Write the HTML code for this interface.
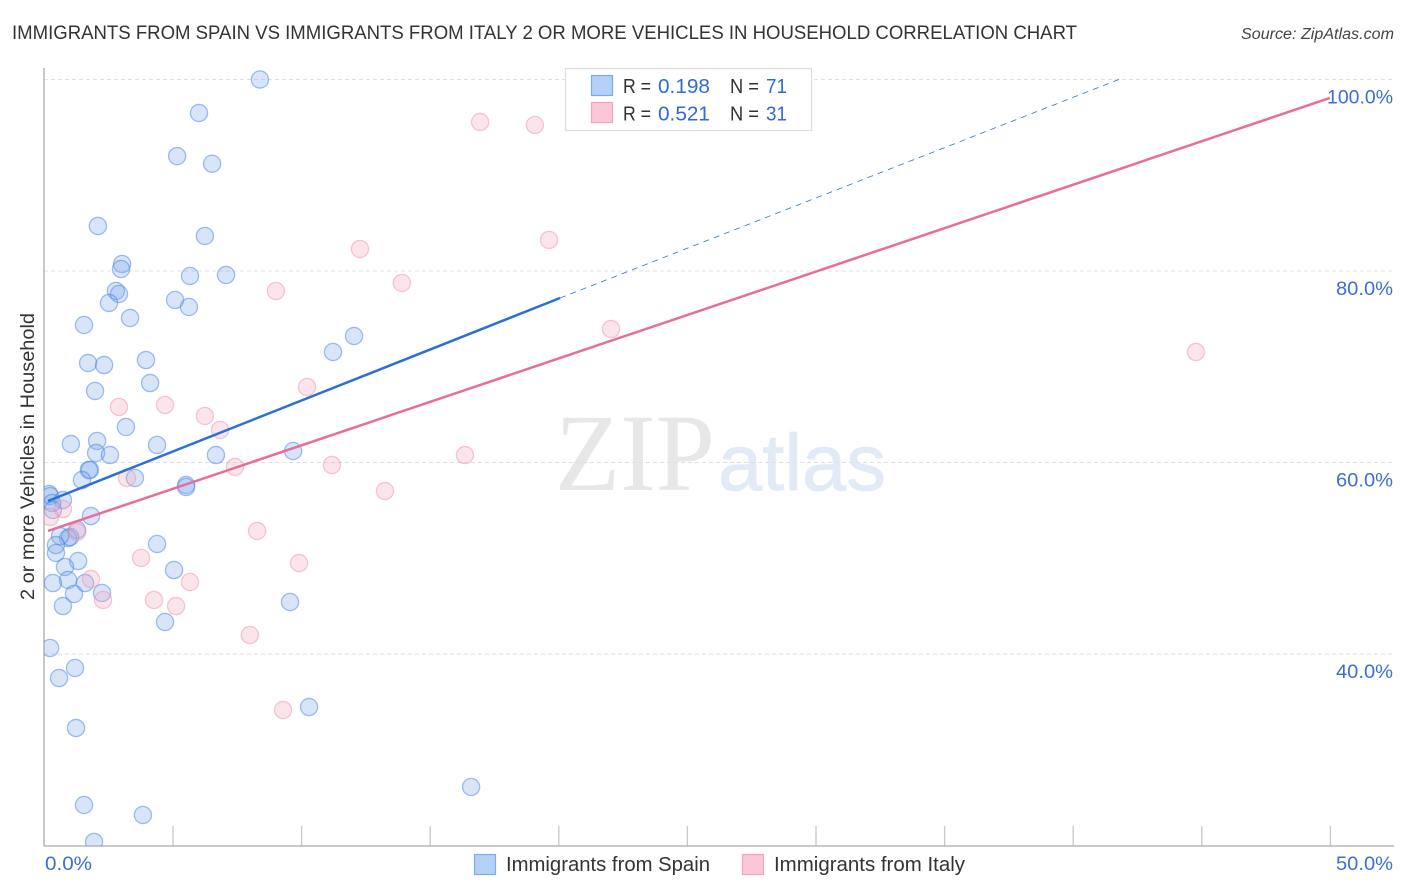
<!DOCTYPE html>
<html lang="en">
<head>
<meta charset="utf-8">
<title>Immigrants from Spain vs Immigrants from Italy correlation chart</title>
<style>
html,body{margin:0;padding:0;background:#fff;width:1406px;height:892px;overflow:hidden}
svg{display:block}
text{font-family:"Liberation Sans",sans-serif}
</style>
</head>
<body>
<svg id="chart" width="1406" height="892" viewBox="0 0 1406 892" xmlns="http://www.w3.org/2000/svg">
  <defs>
    <clipPath id="plot-clip"><rect x="44" y="60" width="1350" height="786"/></clipPath>
  </defs>
  <rect width="1406" height="892" fill="#fff"/>
  <text x="12" y="39" font-size="19.5" fill="#333" textLength="1065" lengthAdjust="spacingAndGlyphs">IMMIGRANTS FROM SPAIN VS IMMIGRANTS FROM ITALY 2 OR MORE VEHICLES IN HOUSEHOLD CORRELATION CHART</text>
  <text x="1241" y="39" font-size="15.5" font-style="italic" fill="#444" textLength="153" lengthAdjust="spacingAndGlyphs">Source: ZipAtlas.com</text>

  <text x="555" y="490" font-size="110" fill="#e7e7e7" textLength="160" lengthAdjust="spacingAndGlyphs" style="font-family:'Liberation Serif',serif">ZIP</text>
  <text x="718" y="490" font-size="80" fill="#e2eaf8" stroke="#e2eaf8" stroke-width="0.8" textLength="168" lengthAdjust="spacingAndGlyphs" style="font-family:'Liberation Sans',sans-serif">atlas</text>

  <g id="grid"></g>
  <g id="x-ticks"></g>
  <g id="y-labels"></g>
  <line x1="44" y1="68" x2="44" y2="846" stroke="#aaa" stroke-width="1.3"/>
  <line x1="44" y1="846" x2="1394" y2="846" stroke="#aaa" stroke-width="1.3"/>
  <g id="points" clip-path="url(#plot-clip)"></g>
  <g id="trends"></g>

  <text transform="translate(34,600) rotate(-90)" font-size="19.5" fill="#333" textLength="287" lengthAdjust="spacingAndGlyphs">2 or more Vehicles in Household</text>
  <text x="45" y="870" font-size="19.5" fill="#3b6fd4" textLength="47" lengthAdjust="spacingAndGlyphs">0.0%</text>
  <text x="1336" y="870" font-size="19.5" fill="#3b6fd4" textLength="57" lengthAdjust="spacingAndGlyphs">50.0%</text>

  <g>
    <rect x="565.5" y="68.5" width="246" height="62" fill="#fff" stroke="#ddd" stroke-width="1.2"/>
    <rect x="591.5" y="75.5" width="21" height="20" fill="#b5d0f5" stroke="#7dabe8" stroke-width="1.2"/>
    <rect x="591.5" y="102.5" width="21" height="20" fill="#fbc6d6" stroke="#f3a5bf" stroke-width="1.2"/>
    <text x="623" y="93" font-size="20" fill="#333" textLength="28" lengthAdjust="spacingAndGlyphs">R =</text>
    <text x="658" y="93" font-size="20.5" fill="#2f6bd0" textLength="52" lengthAdjust="spacingAndGlyphs">0.198</text>
    <text x="730" y="93" font-size="20" fill="#333" textLength="29" lengthAdjust="spacingAndGlyphs">N =</text>
    <text x="766" y="93" font-size="20.5" fill="#2f6bd0" textLength="21" lengthAdjust="spacingAndGlyphs">71</text>
    <text x="623" y="120.5" font-size="20" fill="#333" textLength="28" lengthAdjust="spacingAndGlyphs">R =</text>
    <text x="658" y="120.5" font-size="20.5" fill="#2f6bd0" textLength="52" lengthAdjust="spacingAndGlyphs">0.521</text>
    <text x="730" y="120.5" font-size="20" fill="#333" textLength="29" lengthAdjust="spacingAndGlyphs">N =</text>
    <text x="766" y="120.5" font-size="20.5" fill="#2f6bd0" textLength="21" lengthAdjust="spacingAndGlyphs">31</text>
  </g>

  <g>
    <rect x="474.5" y="854.5" width="21" height="20" fill="#b5d0f5" stroke="#7dabe8" stroke-width="1.2"/>
    <text x="506" y="871" font-size="20" fill="#333" textLength="204" lengthAdjust="spacingAndGlyphs">Immigrants from Spain</text>
    <rect x="742.5" y="854.5" width="21" height="20" fill="#fbc6d6" stroke="#f3a5bf" stroke-width="1.2"/>
    <text x="774" y="871" font-size="20" fill="#333" textLength="191" lengthAdjust="spacingAndGlyphs">Immigrants from Italy</text>
  </g>
</svg>

<script>
// Chart data (percent values)
const spainX = [8.38,6.01,5.16,6.52,2.08,6.24,3.02,2.98,5.66,7.06,2.78,2.90,5.08,5.62,2.51,3.33,1.54,12.04,11.22,3.95,1.70,2.32,4.11,1.97,3.17,1.03,2.05,4.38,9.67,2.01,2.55,6.67,1.73,1.77,3.52,1.46,5.51,5.51,0.18,0.22,0.72,0.30,0.33,1.81,1.27,4.38,0.92,1.00,0.61,0.45,0.45,1.31,0.80,5.04,0.92,1.58,0.33,1.15,2.24,0.72,4.69,9.55,0.22,1.19,0.57,10.29,1.23,16.59,1.54,3.83,1.93];
const spainY = [100.0,96.5,92.0,91.2,84.7,83.66,80.73,80.21,79.48,79.58,77.91,77.6,76.97,76.24,76.66,75.09,74.36,73.21,71.54,70.7,70.39,70.18,68.3,67.47,63.71,61.93,62.25,61.83,61.2,60.99,60.78,60.78,59.22,59.22,58.38,58.17,57.65,57.44,56.71,56.5,56.08,55.77,55.04,54.41,52.95,51.49,52.11,52.22,52.32,51.38,50.55,49.71,49.09,48.77,47.73,47.41,47.41,46.27,46.37,45.01,43.34,45.43,40.63,38.54,37.49,34.46,32.27,26.11,24.23,23.19,20.37];
const italyX = [16.94,19.07,19.62,12.27,9.00,13.90,22.03,44.77,10.21,2.90,4.69,6.24,6.83,7.41,11.18,16.35,3.21,13.24,0.72,0.22,8.27,1.27,3.76,9.90,5.66,1.81,2.28,4.26,5.12,7.99,9.28];
const italyY = [95.56,95.25,83.24,82.3,77.91,78.75,73.94,71.54,67.89,65.8,66.01,64.86,63.4,59.53,59.74,60.78,58.38,57.02,55.14,54.31,52.85,52.74,50.03,49.5,47.52,47.83,45.64,45.64,45.01,41.98,34.15];
const spainTrendX = [0.14,20.05];
const spainTrendY = [55.98,77.18];
const spainDashX = [20.05,41.82];
const spainDashY = [77.18,100.05];
const italyTrendX = [0.14,49.98];
const italyTrendY = [52.85,98.07];
const xTickValues = [5,10,15,20,25,30,35,40,45,50];
const yGridValues = [100,80,60,40];
const yTickLabels = ["100.0%","80.0%","60.0%","40.0%"];

const NS = 'http://www.w3.org/2000/svg';
function xScale(v){ return 44.4 + v * 25.72; }
function yScale(v){ return 79.5 + (100 - v) * 9.575; }
function make(tag, attrs, parent){
  const el = document.createElementNS(NS, tag);
  for (const k in attrs) el.setAttribute(k, attrs[k]);
  parent.appendChild(el);
  return el;
}

const grid = document.getElementById('grid');
const yLabels = document.getElementById('y-labels');
yGridValues.forEach(function(v, i){
  const l = make('line', {x1:44, x2:1394, y1:yScale(v), y2:yScale(v), stroke:'#e0e0e0', 'stroke-width':1, 'stroke-dasharray':'4 3'}, grid);
  
  
  const label = yTickLabels[i];
  const w = label.length === 6 ? 66 : 57;
  const t = make('text', {x:1393 - w, y:yScale(v) + 24, 'font-size':19.5, fill:'#3b6fd4', textLength:w, lengthAdjust:'spacingAndGlyphs'}, yLabels);
  t.textContent = label;
  
  
});

const xTicks = document.getElementById('x-ticks');
xTickValues.forEach(function(v){
  const l = make('line', {x1:xScale(v), x2:xScale(v), y1:826, y2:846, stroke:'#c8c8c8', 'stroke-width':1.3}, xTicks);
  
  
});

const points = document.getElementById('points');
function drawPoints(xs, ys, fill, stroke, name){
  xs.forEach(function(x, i){
    const c = make('circle', {cx:xScale(x), cy:yScale(ys[i]), r:8.6, fill:fill, stroke:stroke, 'stroke-width':1.3}, points);
    
    
  });
}
drawPoints(spainX, spainY, 'rgba(125,170,235,0.3)', 'rgba(70,130,220,0.5)', 'spain');
drawPoints(italyX, italyY, 'rgba(245,165,190,0.3)', 'rgba(235,135,170,0.45)', 'italy');

const trends = document.getElementById('trends');
function drawLine(xs, ys, stroke, width, dash, name){
  const a = {x1:xScale(xs[0]), y1:yScale(ys[0]), x2:xScale(xs[1]), y2:yScale(ys[1]), stroke:stroke, 'stroke-width':width};
  if (dash) a['stroke-dasharray'] = dash;
  const l = make('line', a, trends);
  
  
}
drawLine(spainDashX, spainDashY, '#2f72d8', 0.8, '6 5', 'spain-trend-extension');
drawLine(spainTrendX, spainTrendY, '#2a70d8', 2.5, null, 'spain-trend-line');
drawLine(italyTrendX, italyTrendY, '#e96d9a', 2.5, null, 'italy-trend-line');
</script>
</body>
</html>
